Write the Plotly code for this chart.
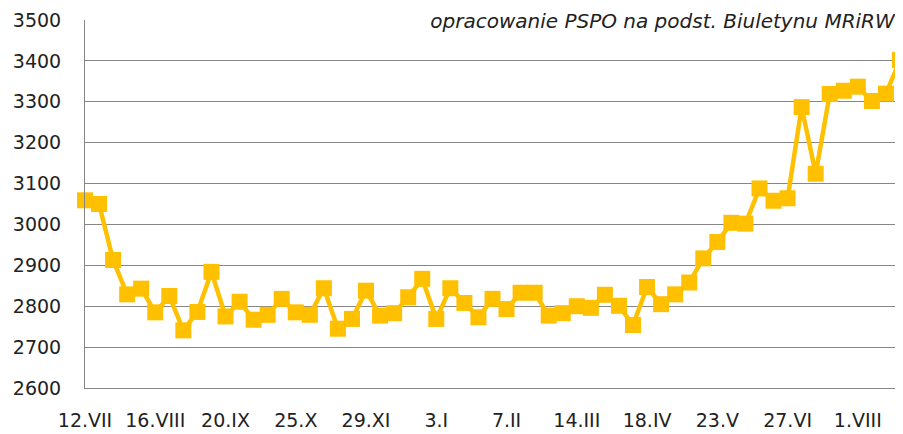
import plotly.graph_objects as go

categories = [
    "12.VII", "19.VII", "26.VII", "2.VIII", "9.VIII", "16.VIII", "23.VIII", "30.VIII",
    "6.IX", "13.IX", "20.IX", "27.IX", "4.X", "11.X", "18.X", "25.X",
    "1.XI", "8.XI", "15.XI", "22.XI", "29.XI", "6.XII", "13.XII", "20.XII", "27.XII",
    "3.I", "10.I", "17.I", "24.I", "31.I", "7.II", "14.II", "21.II", "28.II",
    "7.III", "14.III", "21.III", "28.III", "4.IV", "11.IV", "18.IV", "25.IV",
    "2.V", "9.V", "16.V", "23.V", "30.V", "6.VI", "13.VI", "20.VI", "27.VI",
    "4.VII", "11.VII", "18.VII", "25.VII", "1.VIII", "8.VIII", "15.VIII", "22.VIII",
]

prices = [
    3059, 3050, 2913, 2829, 2843, 2785, 2825, 2741, 2786, 2884,
    2775, 2811, 2767, 2779, 2818, 2785, 2779, 2844, 2745, 2769,
    2838, 2777, 2783, 2822, 2867, 2769, 2844, 2808, 2773, 2818,
    2793, 2833, 2833, 2777, 2783, 2800, 2796, 2828, 2801, 2754,
    2847, 2805, 2829, 2858, 2917, 2957, 3004, 3002, 3088, 3058,
    3064, 3287, 3124, 3319, 3327, 3337, 3302, 3320, 3402,
]

tick_labels = ["12.VII", "16.VIII", "20.IX", "25.X", "29.XI", "3.I",
               "7.II", "14.III", "18.IV", "23.V", "27.VI", "1.VIII"]

source_note = "opracowanie PSPO na podst. Biuletynu MRiRW"

gold = "#FFC000"
grid = "#868686"
font_family = "DejaVu Sans"
text_color = "#222222"

fig = go.Figure()
fig.add_trace(go.Scatter(
    x=categories,
    y=prices,
    mode="lines+markers",
    line=dict(color=gold, width=4.5),
    marker=dict(symbol="square", size=16, color=gold),
    cliponaxis=False,
    showlegend=False,
))

# The page body adds an 8px offset, so the figure is sized to fit the window.
fig.update_layout(
    width=895,
    height=426,
    margin=dict(l=77, r=3, t=12, b=46),
    paper_bgcolor="white",
    plot_bgcolor="white",
    font=dict(family=font_family, size=19, color=text_color),
    xaxis=dict(
        type="category",
        range=[0, len(categories) - 1],
        tickmode="array",
        tickvals=tick_labels,
        ticktext=tick_labels,
        showgrid=False,
        showline=True,
        linecolor=grid,
        linewidth=1,
        ticks="",
        automargin=False,
        ticklabelstandoff=15,
        tickfont=dict(family=font_family, size=19, color=text_color),
    ),
    yaxis=dict(
        range=[2600, 3500],
        dtick=100,
        tick0=2600,
        showgrid=True,
        gridcolor=grid,
        gridwidth=1,
        showline=True,
        linecolor=grid,
        linewidth=1,
        ticks="",
        zeroline=False,
        automargin=False,
        ticklabelstandoff=19,
        tickfont=dict(family=font_family, size=19, color=text_color),
    ),
    annotations=[dict(
        text=source_note,
        xref="paper", yref="paper",
        x=1.0, y=1.0,
        xanchor="right", yanchor="middle",
        yshift=-1,
        width=510,
        align="right",
        showarrow=False,
        bgcolor="white",
        borderpad=3,
        font=dict(family=font_family, size=20, color=text_color, style="italic"),
    )],
)

fig.write_html("out.html")
